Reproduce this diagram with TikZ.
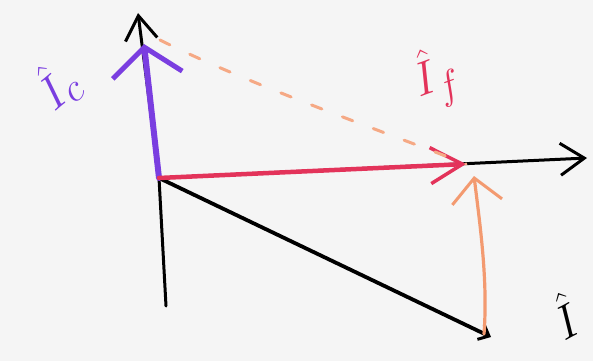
\documentclass[tikz,border=0pt]{standalone}
\usepackage{amsmath}
\usepackage{xcolor}
\usepackage{graphicx}
\usetikzlibrary{arrows.meta}
\definecolor{paper}{HTML}{F5F5F5}
\definecolor{penpurple}{HTML}{7A3EE0}
\definecolor{penred}{HTML}{E3335A}
\definecolor{penorange}{HTML}{F39A70}
\begin{document}
\begin{tikzpicture}[
x=1pt, y=-1pt,
pen/.style={line cap=round, line join=round},
axis/.style={pen, draw=black, line width=3pt, -{Straight Barb[length=24pt, width=32pt, line width=3pt]}},
vecc/.style={pen, draw=penpurple, line width=6pt, -{Straight Barb[length=28pt, width=70pt, line width=5pt]}},
vecf/.style={pen, draw=penred, line width=4.5pt, -{Straight Barb[length=32pt, width=36pt, line width=3.5pt]}},
vech/.style={pen, draw=black, line width=3.8pt, -{Straight Barb[length=9pt, width=16pt, line width=3pt]}},
vecd/.style={pen, draw=penorange, line width=3.2pt, -{Straight Barb[length=24pt, width=50pt, line width=3pt]}},
guide/.style={pen, draw=penorange!85, line width=3pt, dash pattern=on 11pt off 22pt},
lbl/.style={font=\Huge, inner sep=0pt}
]
\fill[paper] (0,0) rectangle (593,361);
\useasboundingbox (0,0) rectangle (593,361);
% frame
\coordinate (O) at (159,178);
\coordinate (ytop) at (138,13);
\coordinate (ybot) at (166,306);
\coordinate (xtip) at (587,158);
% vectors
\coordinate (Ic) at (144,44);
\coordinate (If) at (466,164);
\coordinate (H) at (491,337);
\coordinate (Hup) at (484,334);
\coordinate (Ifup) at (474,176);
\coordinate (Icend) at (160,40);
\draw[axis] (ybot) -- (O) -- (ytop);
\draw[axis] (O) -- (xtip);
\draw[vech] (O) -- (H);
\draw[vecc] (O) -- (Ic);
\draw[vecf] (O) -- (If);
\draw[vecd] (Hup) .. controls (488,280) and (480,225) .. (Ifup);
\draw[guide] (Icend) .. controls (250,85) and (380,130) .. (If);
% labels
\node[lbl, text=penpurple] (lc) at (57,86) {\rotatebox{40}{\scalebox{1.9}{$\hat{I}_c$}}};
\node[lbl, text=penred] (lf) at (436,78) {\rotatebox{20}{\scalebox{1.9}{$\hat{I}_f$}}};
\node[lbl, text=black] (lh) at (565,316) {\rotatebox{28}{\scalebox{1.9}{$\hat{I}$}}};
\end{tikzpicture}
\end{document}
